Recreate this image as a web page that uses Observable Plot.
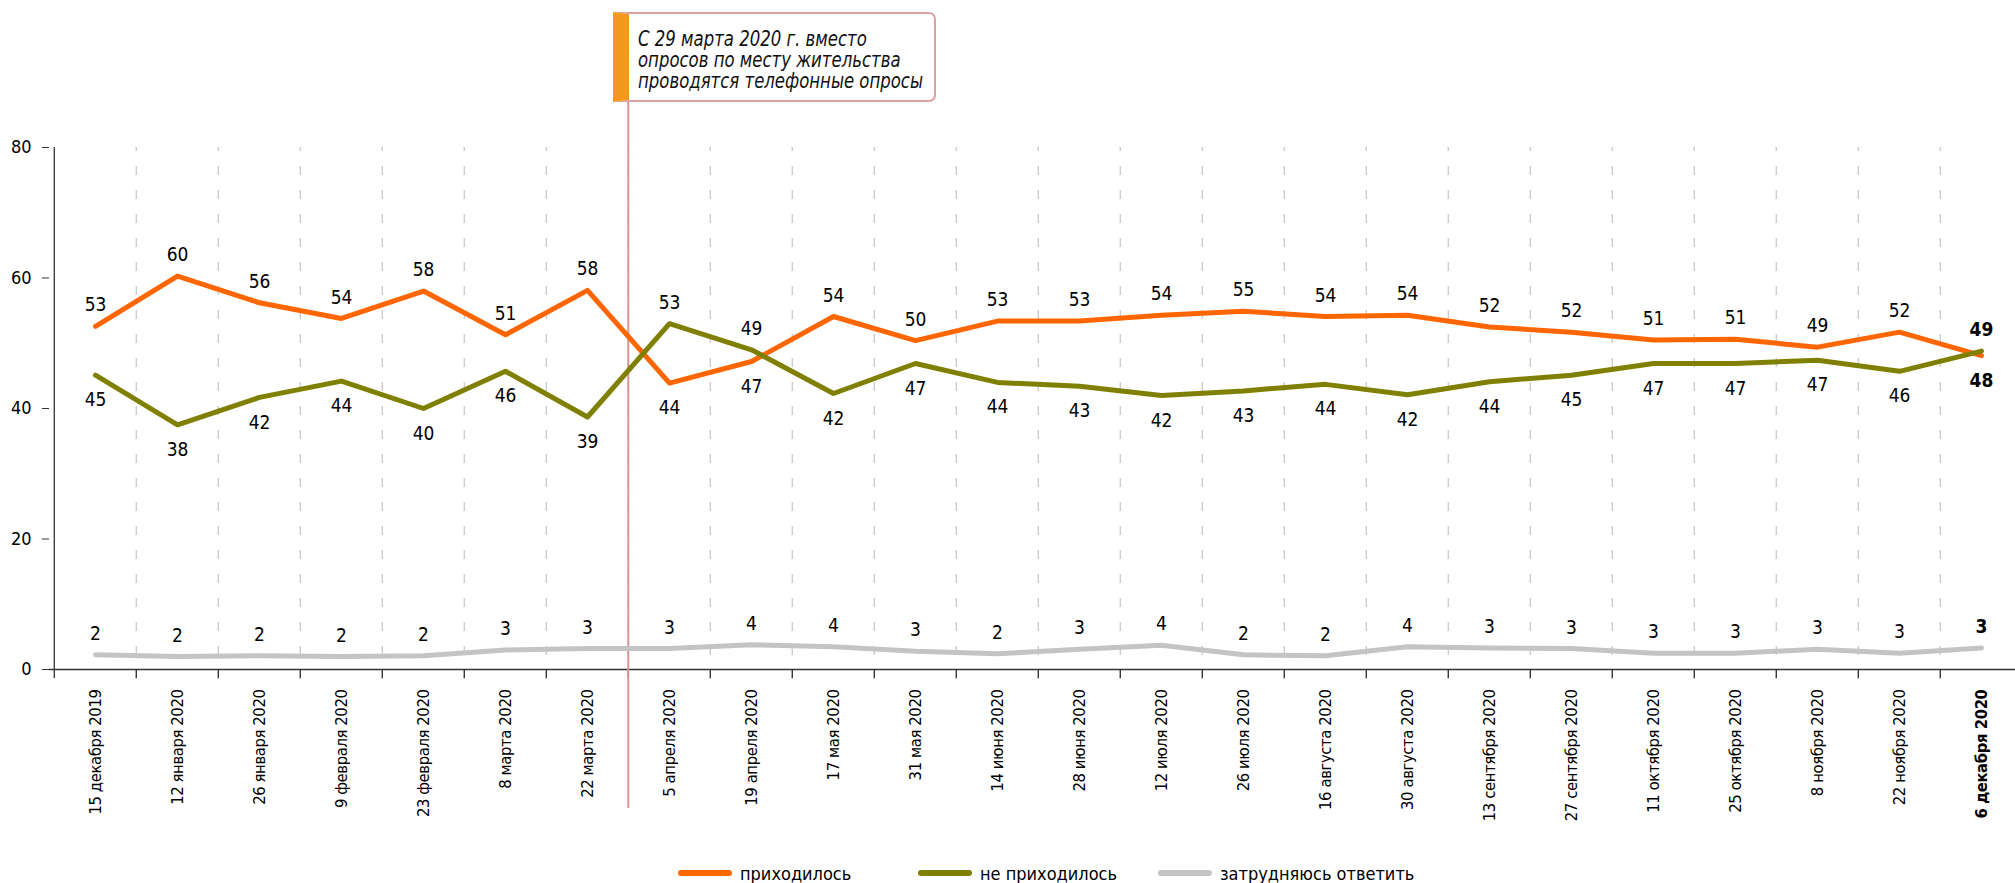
<!DOCTYPE html>
<html>
<head>
<meta charset="utf-8">
<script src="https://cdn.jsdelivr.net/npm/d3@7"></script>
<script src="https://cdn.jsdelivr.net/npm/@observablehq/plot@0.6"></script>
<style>
  html, body { margin: 0; padding: 0; background: #fff; }
  #wrap { position: relative; width: 2015px; height: 883px; overflow: hidden;
    font-family: "Liberation Sans Narrow", "DejaVu Sans Condensed", "Liberation Sans", sans-serif; color: #000; }
  #note { position: absolute; box-sizing: border-box; background: #fff;
    border: 2px solid #d9a3a3; border-left: 16px solid #f39a1e; border-radius: 0 7px 7px 0;
    padding: 15px 0 0 9px; font-style: italic; font-size: 21px; line-height: 21px; color: #111; white-space: nowrap; }
  #note .ln { display: block; transform-origin: 0 50%; width: max-content; }
  #legend { position: absolute; top: 861px; height: 24px; display: flex; justify-content: center; align-items: center; font-size: 18px; white-space: nowrap; }
  .item { width: 240px; flex: 0 0 240px; display: flex; align-items: center; }
  .sw { display: inline-block; width: 54px; height: 6px; border-radius: 3px; margin-right: 8px; flex: 0 0 54px; }
  .xlab text { letter-spacing: -0.4px; }
</style>
</head>
<body>
<div id="wrap"></div>
<script>
// ---- data ----
const dates = [
  "15 декабря 2019", "12 января 2020", "26 января 2020", "9 февраля 2020", "23 февраля 2020",
  "8 марта 2020", "22 марта 2020", "5 апреля 2020", "19 апреля 2020", "17 мая 2020",
  "31 мая 2020", "14 июня 2020", "28 июня 2020", "12 июля 2020", "26 июля 2020",
  "16 августа 2020", "30 августа 2020", "13 сентября 2020", "27 сентября 2020", "11 октября 2020",
  "25 октября 2020", "8 ноября 2020", "22 ноября 2020", "6 декабря 2020"
];
const seriesNames = ["приходилось", "не приходилось", "затрудняюсь ответить"];
// line positions
const yesValues = [52.6, 60.3, 56.2, 53.8, 58.0, 51.3, 58.1, 43.9, 47.2, 54.1, 50.4, 53.4,
                   53.4, 54.3, 54.9, 54.1, 54.3, 52.5, 51.7, 50.5, 50.6, 49.4, 51.7, 48.1];
const noValues  = [45.1, 37.5, 41.7, 44.2, 40.0, 45.7, 38.7, 53.0, 49.0, 42.3, 46.9, 44.0,
                   43.4, 42.0, 42.7, 43.7, 42.1, 44.1, 45.1, 46.9, 46.9, 47.4, 45.7, 48.8];
const dkValues  = [2.25, 2.0, 2.1, 2.0, 2.1, 3.0, 3.2, 3.2, 3.8, 3.5, 2.8, 2.4,
                   3.1, 3.7, 2.25, 2.1, 3.5, 3.3, 3.2, 2.5, 2.5, 3.1, 2.5, 3.3];
// printed data labels
const yesLabels = [53, 60, 56, 54, 58, 51, 58, 44, 47, 54, 50, 53, 53, 54, 55, 54, 54, 52, 52, 51, 51, 49, 52, 48];
const noLabels  = [45, 38, 42, 44, 40, 46, 39, 53, 49, 42, 47, 44, 43, 42, 43, 44, 42, 44, 45, 47, 47, 47, 46, 49];
const dkLabels  = [2, 2, 2, 2, 2, 3, 3, 3, 4, 4, 3, 2, 3, 4, 2, 2, 4, 3, 3, 3, 3, 3, 3, 3];
const yTicks = [0, 20, 40, 60, 80];
const noteLines = ["С 29 марта 2020 г. вместо", "опросов по месту жительства", "проводятся телефонные опросы"];
const noteDate = "5 апреля 2020"; // note line sits just before this survey
const colors = ["#ff6600", "#808000", "#c4c4c4"];

// ---- table ----
const lastDate = dates[dates.length - 1];
const rows = [];
dates.forEach((d, i) => {
  rows.push({date: d, series: seriesNames[0], value: yesValues[i], label: yesLabels[i], above: yesValues[i] >= noValues[i]});
  rows.push({date: d, series: seriesNames[1], value: noValues[i], label: noLabels[i], above: noValues[i] > yesValues[i]});
  rows.push({date: d, series: seriesNames[2], value: dkValues[i], label: dkLabels[i], above: true});
});
const drawOrder = [seriesNames[2], seriesNames[0], seriesNames[1]];
const lineRows = drawOrder.flatMap(s => rows.filter(r => r.series === s));

// ---- layout ----
const W = 2015, H = 858, plotLeft = 49, plotRight = 2027, plotTop = 147, plotBottom = 669;
const step = (plotRight - plotLeft) / dates.length;
const font = '"Liberation Sans Narrow", "DejaVu Sans Condensed", "Liberation Sans", sans-serif';

const chart = Plot.plot({
  width: W, height: H,
  marginLeft: plotLeft, marginRight: W - plotRight, marginTop: plotTop, marginBottom: H - plotBottom,
  style: {fontFamily: font, fontSize: "18px", background: "#fff", color: "#000"},
  x: {type: "point", domain: dates, padding: 0.5, axis: null},
  y: {domain: [0, 80], axis: null},
  color: {domain: seriesNames, range: colors},
  marks: [
    Plot.ruleX(dates.slice(1), {x: d => d, dx: -step / 2, y1: 0, y2: 80, insetTop: 10, stroke: "#c8c8c8", strokeWidth: 1.3, strokeDasharray: "9,15"}),
    Plot.ruleY([0], {stroke: "#333", strokeWidth: 1.3}),
    Plot.ruleX([dates[0]], {x: d => d, dx: -step / 2, y1: 0, y2: 80, stroke: "#333", strokeWidth: 1.3}),
    Plot.ruleX(dates, {x: d => d, dx: -step / 2, y1: 0, y2: 0, insetBottom: -9, stroke: "#333", strokeWidth: 1.3}),
    Plot.axisY(yTicks, {tickSize: 7, tickPadding: 11, fontSize: 18, label: null, stroke: "#333"}),
    Plot.text(dates.slice(0, -1), {x: d => d, frameAnchor: "bottom", rotate: -90, textAnchor: "end", lineAnchor: "middle", dy: 20, fontSize: 16.5, className: "xlab"}),
    Plot.text([lastDate], {x: d => d, frameAnchor: "bottom", rotate: -90, textAnchor: "end", lineAnchor: "middle", dy: 20, fontSize: 16.5, fontWeight: "bold", className: "xlab"}),
    Plot.ruleX([noteDate], {x: d => d, dx: -step / 2, insetTop: -135, insetBottom: -139, stroke: "#d89595", strokeWidth: 2}),
    Plot.line(lineRows, {x: "date", y: "value", z: "series", stroke: "series", strokeWidth: 5, strokeLinejoin: "round", strokeLinecap: "round"}),
    Plot.text(rows.filter(r => r.above && r.date !== lastDate), {x: "date", y: "value", text: "label", dy: -21, fontSize: 19}),
    Plot.text(rows.filter(r => !r.above && r.date !== lastDate), {x: "date", y: "value", text: "label", dy: 25, fontSize: 19}),
    Plot.text(rows.filter(r => r.above && r.date === lastDate), {x: "date", y: "value", text: "label", dy: -21, fontSize: 19, fontWeight: "bold"}),
    Plot.text(rows.filter(r => !r.above && r.date === lastDate), {x: "date", y: "value", text: "label", dy: 25, fontSize: 19, fontWeight: "bold"})
  ]
});

const wrap = document.getElementById("wrap");
wrap.appendChild(chart);

// annotation box anchored to the note line
const xs = chart.scale("x");
const noteX = xs.apply(noteDate) - step / 2;
const note = document.createElement("div");
note.id = "note";
note.style.left = (noteX - 16 + 1) + "px";
note.style.top = "12px";
note.style.width = "323px";
note.style.height = "90px";
note.innerHTML = noteLines.map(t => `<span class="ln">${t}</span>`).join("");
wrap.appendChild(note);
const lns = Array.from(note.querySelectorAll(".ln"));
const maxW = Math.max(...lns.map(l => l.getBoundingClientRect().width));
const k = Math.min(1, 285 / maxW);
lns.forEach(l => { l.style.transform = `scaleX(${k})`; });

// legend
const legend = document.createElement("div");
legend.id = "legend";
legend.style.left = plotLeft + "px";
legend.style.width = (plotRight - plotLeft) + "px";
seriesNames.forEach((s, i) => {
  const it = document.createElement("div");
  it.className = "item";
  it.innerHTML = `<span class="sw" style="background:${colors[i]}"></span><span>${s}</span>`;
  legend.appendChild(it);
});
wrap.appendChild(legend);
</script>
</body>
</html>
